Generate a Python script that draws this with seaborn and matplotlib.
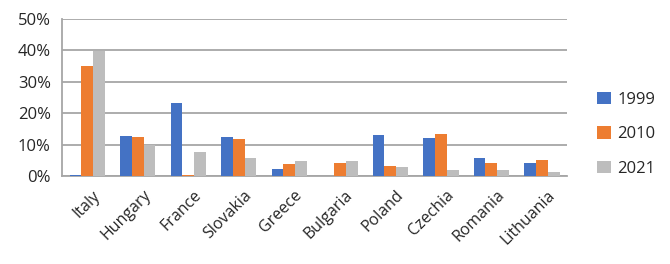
import numpy as np
import pandas as pd
import matplotlib
matplotlib.use("Agg")
import matplotlib.pyplot as plt
import matplotlib.transforms as mtrans
import seaborn as sns
from matplotlib.ticker import PercentFormatter, FixedLocator

countries = ["Italy", "Hungary", "France", "Slovakia", "Greece",
             "Bulgaria", "Poland", "Czechia", "Romania", "Lithuania"]
years = ["1999", "2010", "2021"]
v1999 = [0.3, 12.9, 23.4, 12.6, 2.4, 0.0, 13.0, 12.0, 5.7, 4.3]
v2010 = [35.1, 12.4, 0.3, 11.7, 3.7, 4.1, 3.1, 13.5, 4.1, 5.0]
v2021 = [39.9, 9.9, 7.8, 5.7, 4.9, 4.7, 2.8, 1.8, 1.8, 1.4]
colors = ["#4472C4", "#ED7D31", "#BDBDBD"]

# long-form table for seaborn
df = pd.DataFrame({
    "country": countries * 3,
    "year": [y for y in years for _ in countries],
    "value": v1999 + v2010 + v2021,
})

sns.set_style("white")
plt.rcParams["font.family"] = ["Open Sans", "DejaVu Sans"]

fig = plt.figure(figsize=(6.7, 2.64), dpi=100)
ax = fig.add_axes([0.0925, 0.333, 0.754, 0.595])

sns.barplot(data=df, x="country", y="value", hue="year", order=countries,
            hue_order=years, palette=colors, width=0.7, ax=ax,
            saturation=1, errorbar=None, linewidth=0, zorder=3)

ax.set_ylim(0, 50)
ax.set_xlim(-0.5, len(countries) - 0.5)
ax.yaxis.set_major_locator(FixedLocator([0, 10, 20, 30, 40, 50]))
ax.yaxis.set_major_formatter(PercentFormatter(decimals=0))
ax.grid(axis="y", color="#A6A6A6", linewidth=1.3, zorder=0)
ax.set_axisbelow(True)

for s in ["top", "right"]:
    ax.spines[s].set_visible(False)
for s in ["left", "bottom"]:
    ax.spines[s].set_color("#A6A6A6")
    ax.spines[s].set_linewidth(1.3)

# ticks between categories, labels centered
ax.set_xticks(np.arange(-0.5, len(countries)), minor=True)
ax.tick_params(axis="x", which="minor", length=5, color="#A6A6A6", width=1.3)
ax.tick_params(axis="x", which="major", length=0, pad=8)
ax.tick_params(axis="y", length=5, color="#A6A6A6", width=1.3, pad=3,
               labelsize=12)
ax.set_xticks(range(len(countries)))
ax.set_xticklabels(countries, rotation=45, ha="right", rotation_mode="anchor",
                   fontsize=11.5)
shift = mtrans.ScaledTranslation(5 / 100, 0, fig.dpi_scale_trans)
for lab in ax.get_xticklabels():
    lab.set_transform(lab.get_transform() + shift)
ax.set_xlabel("")
ax.set_ylabel("")

ax.legend(loc="center left", bbox_to_anchor=(1.03, 0.267), frameon=False,
          fontsize=12, handlelength=0.8, handleheight=0.8,
          labelspacing=1.1, handletextpad=0.4)

fig.savefig("out.png", dpi=100)
